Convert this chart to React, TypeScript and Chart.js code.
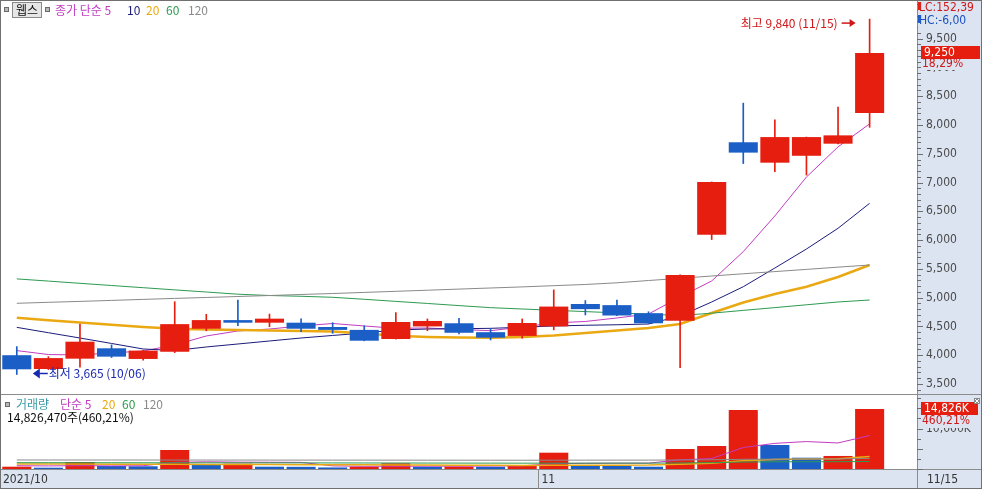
import React, { useEffect, useRef } from "react";
import { Chart, registerables } from "chart.js";

Chart.register(...registerables);

// ---------------- data ----------------
const dates = ["10/06","10/07","10/08","10/12","10/13","10/14","10/15","10/18","10/19","10/20","10/21","10/22","10/25","10/26","10/27","10/28","10/29","11/01","11/02","11/03","11/04","11/05","11/08","11/09","11/10","11/11","11/12","11/15"];
const periodLabels = ["2021/10", "11", "11/15"];
const opens = [4000,3760,3940,4120,3935,4060,4460,4610,4565,4565,4490,4440,4282,4500,4555,4400,4335,4500,4890,4870,4730,4600,6095,7700,7345,7465,7675,8210];
const closes = [3755,3950,4235,3975,4080,4540,4610,4565,4635,4460,4440,4252,4577,4595,4390,4305,4560,4845,4800,4690,4555,5395,7010,7520,7790,7790,7820,9250];
const highs = [4150,3975,4540,4180,4085,4930,4710,4960,4715,4630,4565,4510,4740,4630,4640,4460,4630,5135,4950,4960,4755,5395,7010,8380,8090,7790,8310,9840];
const lows = [3665,3750,3790,3960,3915,4045,4425,4515,4495,4410,4380,4250,4280,4425,4370,4265,4295,4440,4700,4685,4550,3785,6010,7330,7190,7130,7670,7960];

const ma5 = [4080,4012,4004,4039,4073,4178,4334,4421,4455,4508,4551,4508,4468,4473,4447,4426,4490,4560,4586,4647,4716,5011,5290,5800,6420,7096,7620,8020];
const ma10 = [4484,4391,4299,4204,4108,4082,4143,4195,4247,4299,4343,4386,4438,4455,4460,4467,4486,4508,4520,4529,4542,4681,4925,5190,5515,5845,6205,6639];
const ma20 = [4652,4607,4567,4528,4490,4459,4447,4438,4429,4421,4412,4377,4337,4317,4308,4304,4317,4343,4386,4429,4473,4542,4733,4916,5064,5190,5359,5567];
const ma60 = [5326,5288,5249,5211,5173,5135,5098,5060,5037,5024,5006,4972,4935,4899,4862,4826,4803,4780,4758,4735,4713,4690,4730,4779,4827,4876,4925,4959];
const ma120 = [4902,4919,4935,4952,4970,4987,5003,5020,5037,5055,5072,5091,5110,5129,5149,5168,5187,5208,5229,5258,5298,5336,5376,5415,5453,5491,5530,5567];

const volumes = [570000,320000,1730000,740000,670000,4700000,1060000,1310000,570000,540000,380000,570000,1410000,560000,600000,540000,820000,4030000,990000,810000,570000,4940000,5680000,14570000,5930000,2790000,3221700,14826470];
const vma5 = [810000,760000,830000,770000,806000,1632000,1780000,1696000,1662000,1636000,772000,674000,694000,692000,704000,736000,786000,1310000,1396000,1438000,1444000,2268000,2598000,5314000,6338000,6782000,6438000,8268000];
const vma20 = [1250000,1230000,1210000,1190000,1170000,1150000,1130000,1110000,1090000,1070000,1050000,1020000,990000,960000,930000,900000,880000,920000,940000,950000,960000,1150000,1420000,2050000,2330000,2450000,2560000,3100000];
const vma60 = [1560000,1555000,1550000,1545000,1540000,1535000,1530000,1525000,1520000,1510000,1500000,1490000,1480000,1470000,1460000,1450000,1440000,1450000,1450000,1445000,1440000,1500000,1560000,1720000,1780000,1790000,1800000,1850000];
const vma120 = [2230000,2225000,2220000,2220000,2215000,2210000,2210000,2205000,2200000,2200000,2195000,2190000,2185000,2180000,2175000,2170000,2165000,2180000,2185000,2190000,2190000,2230000,2280000,2390000,2440000,2460000,2480000,2620000];

const priceTickLabels = [3500,4000,4500,5000,5500,6000,6500,7000,7500,8000,8500,9000,9500];
const volTickLabels = [10000000];

// ---------------- styles ----------------
const RED = "#e61e10";
const BLUE = "#1a5ec6";
const C5 = "#c23cc2";
const C10 = "#1c1c7c";
const C20 = "#eaa912";
const C60 = "#2e9a50";
const C120 = "#8a8a8a";
const CVOL = "#3a9aa6";
const AXIS_BG = "#dbe4f0";
const FONT_UI = "'Noto Sans CJK KR', 'Noto Sans', sans-serif";
const FONT_AX = "'Liberation Sans Narrow', 'DejaVu Sans Condensed', 'Liberation Sans', sans-serif";

const fmt = (v: number) => Math.round(v).toLocaleString("en-US");
const pct = (v: number) => v.toFixed(2).replace(".", ",");
const near = (list: number[], v: number, tol: number) => list.some((t) => Math.abs(t - v) < tol);

function txt(ctx: CanvasRenderingContext2D, s: string, x: number, y: number, color: string, font: string, align: CanvasTextAlign = "left") {
  ctx.font = font;
  ctx.fillStyle = color;
  ctx.textAlign = align;
  ctx.textBaseline = "middle";
  ctx.fillText(s, x, y);
}
function hline(ctx: CanvasRenderingContext2D, x1: number, x2: number, y: number) {
  ctx.beginPath(); ctx.moveTo(x1, y); ctx.lineTo(x2, y); ctx.stroke();
}
function vline(ctx: CanvasRenderingContext2D, x: number, y1: number, y2: number) {
  ctx.beginPath(); ctx.moveTo(x, y1); ctx.lineTo(x, y2); ctx.stroke();
}
function square(ctx: CanvasRenderingContext2D, x: number, y: number) {
  ctx.fillStyle = "#b8b8b8"; ctx.fillRect(x, y, 5, 5);
  ctx.strokeStyle = "#6a6a6a"; ctx.strokeRect(x + 0.5, y + 0.5, 4, 4);
}

export default function App() {
  const ref = useRef<HTMLCanvasElement>(null);

  useEffect(() => {
    document.body.style.margin = "0";
    const canvas = ref.current!;
    const labels = [...dates, ""];
    const candleColors = closes.map((c, i) => (c >= opens[i] ? RED : BLUE));
    const volColors = volumes.map((v, i) => (i === 0 || v >= volumes[i - 1] ? RED : BLUE));

    const lineDs = (data: number[], color: string, width: number, axis: string, order: number) => ({
      type: "line" as const, data, borderColor: color, borderWidth: width, pointRadius: 0,
      tension: 0, yAxisID: axis, order, fill: false,
    });

    const overlay = {
      id: "overlay",
      beforeDraw(chart: any) {
        const { ctx, chartArea: a, width, height } = chart;
        ctx.save();
        ctx.fillStyle = "#ffffff"; ctx.fillRect(0, 0, width, height);
        ctx.fillStyle = AXIS_BG;
        ctx.fillRect(a.right, 0, width - a.right, height);
        ctx.fillRect(0, a.bottom, width, height - a.bottom);
        ctx.restore();
      },
      afterDraw(chart: any) {
        const { ctx, chartArea: a, width, height } = chart;
        const yP = chart.scales.y, yV = chart.scales.yv, xs = chart.scales.x;
        const R = Math.round(a.right);
        const slot = (a.right - a.left) / labels.length;
        const axFont = `12px ${FONT_AX}`;
        ctx.save();
        ctx.lineWidth = 1;
        ctx.strokeStyle = "#8c8c8c";
        hline(ctx, 0, width, Math.round(yP.bottom) + 0.5);
        hline(ctx, 0, width, Math.round(a.bottom) + 0.5);
        vline(ctx, R + 0.5, 0, height);
        ctx.strokeStyle = "#707070";
        ctx.strokeRect(0.5, 0.5, width - 1, height - 1);

        // axis tick marks
        ctx.strokeStyle = "#6e6e6e";
        for (let v = Math.ceil(yP.min / 100) * 100; v <= yP.max; v += 100) {
          const y = Math.round(yP.getPixelForValue(v)) + 0.5;
          hline(ctx, R, R + (v % 500 === 0 ? 6 : 4), y);
        }
        for (let v = 0; v <= yV.max; v += 2500000) {
          const y = Math.round(yV.getPixelForValue(v)) + 0.5;
          hline(ctx, R, R + (v % 5000000 === 0 ? 6 : 4), y);
        }
        volTickLabels.forEach((v) => {
          txt(ctx, `${fmt(v / 1000)}K`, R + 9, yV.getPixelForValue(v), "#4a4a4a", axFont);
        });

        // x-axis labels
        const by = (a.bottom + height) / 2 + 1;
        txt(ctx, periodLabels[0], 3, by, "#333", axFont);
        const novIdx = dates.findIndex((d) => d.startsWith("11/"));
        const novX = Math.round(xs.getPixelForValue(novIdx) - slot / 2) + 0.5;
        ctx.strokeStyle = "#8c8c8c";
        vline(ctx, novX, a.bottom, height);
        txt(ctx, periodLabels[1], novX + 3, by, "#333", axFont);
        txt(ctx, periodLabels[2], R + 10, by, "#333", axFont);

        // top legend
        const ui = `12px ${FONT_UI}`;
        square(ctx, 4, 7);
        ctx.fillStyle = "#e6e6e6"; ctx.fillRect(12, 2, 30, 16);
        ctx.strokeStyle = "#8a8a8a"; ctx.strokeRect(12.5, 2.5, 29, 15);
        txt(ctx, "웹스", 16, 10.5, "#111", ui);
        square(ctx, 45, 7);
        txt(ctx, "종가 단순 5", 55, 10.5, C5, ui);
        txt(ctx, "10", 127, 10.5, C10, ui);
        txt(ctx, "20", 146, 10.5, C20, ui);
        txt(ctx, "60", 166, 10.5, C60, ui);
        txt(ctx, "120", 188, 10.5, C120, ui);

        // volume legend
        square(ctx, 5, 402);
        txt(ctx, "거래량", 16, 404.5, CVOL, ui);
        txt(ctx, "단순 5", 60, 404.5, C5, ui);
        txt(ctx, "20", 102, 404.5, C20, ui);
        txt(ctx, "60", 122, 404.5, C60, ui);
        txt(ctx, "120", 143, 404.5, C120, ui);
        const lastVol = volumes[volumes.length - 1];
        const volRatio = (lastVol / volumes[volumes.length - 2]) * 100;
        txt(ctx, `${fmt(lastVol)}주(${pct(volRatio)}%)`, 7, 417.5, "#111", ui);

        // high / low annotations
        let hi = 0, lo = 0;
        highs.forEach((h, i) => { if (h > highs[hi]) hi = i; });
        lows.forEach((l, i) => { if (l < lows[lo]) lo = i; });
        const hx = xs.getPixelForValue(hi) - 14;
        const hy = yP.getPixelForValue(highs[hi]) + 4;
        ctx.strokeStyle = "#d01818"; ctx.fillStyle = "#d01818"; ctx.lineWidth = 1.5;
        hline(ctx, hx - 14, hx - 4, hy);
        ctx.beginPath(); ctx.moveTo(hx, hy); ctx.lineTo(hx - 6, hy - 4); ctx.lineTo(hx - 6, hy + 4); ctx.closePath(); ctx.fill();
        txt(ctx, `최고 ${fmt(highs[hi])} (${dates[hi]})`, hx - 18, hy, "#d01818", ui, "right");
        const lx = xs.getPixelForValue(lo) + 16;
        const ly = yP.getPixelForValue(lows[lo]) - 1;
        ctx.strokeStyle = "#1a2ab0"; ctx.fillStyle = "#1a2ab0"; ctx.lineWidth = 1.5;
        hline(ctx, lx + 4, lx + 15, ly);
        ctx.beginPath(); ctx.moveTo(lx, ly); ctx.lineTo(lx + 7, ly - 5); ctx.lineTo(lx + 7, ly + 5); ctx.closePath(); ctx.fill();
        txt(ctx, `최저 ${fmt(lows[lo])} (${dates[lo]})`, lx + 16, ly, "#1a2ab0", ui);
        ctx.lineWidth = 1;

        // right axis info
        ctx.fillStyle = AXIS_BG; ctx.fillRect(R + 1, 1, width - R - 2, 27);
        ctx.fillStyle = RED; ctx.fillRect(R + 1, 2, 2, 8);
        ctx.fillStyle = BLUE; ctx.fillRect(R + 1, 15, 2, 8);
        txt(ctx, "LC:152,39", R + 2, 8, "#d01818", axFont);
        txt(ctx, "HC:-6,00", R + 2, 21, "#1a50c0", axFont);

        const last = closes[closes.length - 1];
        const prev = closes[closes.length - 2];
        const cy = yP.getPixelForValue(last) - 1;
        ctx.fillStyle = RED; ctx.fillRect(R + 4, Math.round(cy - 6), 59, 13);
        txt(ctx, fmt(last), R + 7, cy + 0.5, "#ffffff", axFont);
        ctx.fillStyle = AXIS_BG; ctx.fillRect(R + 4, Math.round(cy + 7), 50, 11);
        txt(ctx, `${pct((last / prev - 1) * 100)}%`, R + 5, cy + 12, "#d01818", axFont);

        const vy = yV.getPixelForValue(lastVol) - 0.5;
        ctx.fillStyle = RED; ctx.fillRect(R + 4, Math.round(vy - 6), 57, 13);
        txt(ctx, `${fmt(lastVol / 1000)}K`, R + 7, vy + 0.5, "#ffffff", axFont);
        ctx.fillStyle = AXIS_BG; ctx.fillRect(R + 4, Math.round(vy + 7), 52, 13);
        txt(ctx, `${pct(volRatio)}%`, R + 5, vy + 12.5, "#d01818", axFont);
        ctx.fillStyle = "#8a8a8a"; ctx.fillRect(width - 8, Math.round(yV.top) + 4, 6, 6);
        ctx.strokeStyle = "#ffffff";
        ctx.beginPath();
        ctx.moveTo(width - 7, yV.top + 5); ctx.lineTo(width - 3, yV.top + 9);
        ctx.moveTo(width - 3, yV.top + 5); ctx.lineTo(width - 7, yV.top + 9);
        ctx.stroke();
        ctx.restore();
      },
    };

    const chart = new Chart(canvas, {
      type: "bar",
      data: {
        labels,
        datasets: [
          { type: "bar", data: opens.map((o, i) => [o, closes[i]]), backgroundColor: candleColors, yAxisID: "y", grouped: false, categoryPercentage: 1, barPercentage: 0.92, order: 1 } as any,
          { type: "bar", data: lows.map((l, i) => [l, highs[i]]), backgroundColor: candleColors, yAxisID: "y", grouped: false, barThickness: 1, order: 2 } as any,
          lineDs(ma120, C120, 1, "y", 3),
          lineDs(ma60, C60, 1, "y", 3),
          lineDs(ma20, C20, 2.5, "y", 3),
          lineDs(ma10, C10, 1, "y", 3),
          lineDs(ma5, C5, 1, "y", 3),
          { type: "bar", data: volumes, backgroundColor: volColors, yAxisID: "yv", grouped: false, categoryPercentage: 1, barPercentage: 0.92, order: 10 } as any,
          lineDs(vma120, C120, 1, "yv", 0),
          lineDs(vma60, C60, 1, "yv", 0),
          lineDs(vma20, C20, 1.5, "yv", 0),
          lineDs(vma5, C5, 1, "yv", 0),
        ],
      },
      options: {
        animation: false,
        responsive: false,
        devicePixelRatio: 1,
        layout: { padding: { left: 1, top: 2, right: 0, bottom: 20 } },
        plugins: { legend: { display: false }, tooltip: { enabled: false } },
        scales: {
          x: { type: "category", display: false },
          y: {
            position: "right", stack: "main", stackWeight: 392, min: 3326, max: 10137,
            grid: { display: false, drawTicks: false }, border: { display: false },
            ticks: {
              stepSize: 100, autoSkip: false, maxTicksLimit: 1000, padding: 9, color: "#4a4a4a",
              font: { family: FONT_AX, size: 12 },
              callback: (v: any) => (near(priceTickLabels, Number(v), 1) ? fmt(Number(v)) : null),
            },
            afterFit: (s: any) => { s.width = 65; s.paddingTop = 0; s.paddingBottom = 0; },
          },
          yv: {
            position: "right", stack: "main", stackWeight: 75, min: 0, max: 18530000,
            grid: { display: false, drawTicks: false }, border: { display: false },
            ticks: { display: false },
            afterFit: (s: any) => { s.width = 65; s.paddingTop = 0; s.paddingBottom = 0; },
          },
        },
      },
      plugins: [overlay],
    } as any);
    return () => chart.destroy();
  }, []);

  return <canvas ref={ref} width={982} height={489} style={{ display: "block", width: 982, height: 489 }} />;
}
